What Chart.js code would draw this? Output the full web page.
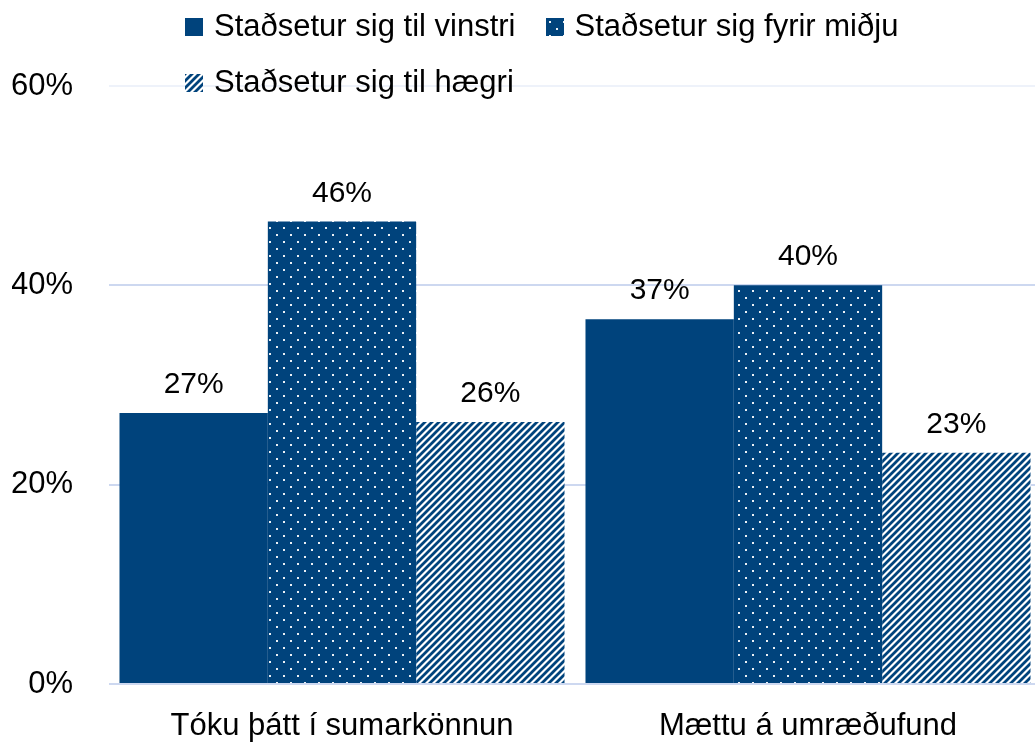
<!DOCTYPE html>
<html>
<head>
<meta charset="utf-8">
<script src="https://cdn.jsdelivr.net/npm/chart.js@4/dist/chart.umd.min.js"></script>
<style>
  html, body { margin: 0; padding: 0; overflow: hidden; background: #ffffff; }
  #wrap { position: relative; width: 1035px; height: 747px; overflow: hidden; }
  #chartBox { position: absolute; left: 0; top: 0; width: 1041px; height: 747px; }
  #legend {
    position: absolute; left: 185px; top: -2px; width: 760px;
    display: flex; flex-wrap: wrap;
    font-family: "Liberation Sans", Arial, sans-serif; font-size: 31px; line-height: 56px; color: #000;
  }
  .item { white-space: nowrap; margin-right: 30px; }
  .item canvas { vertical-align: baseline; margin-right: 11px; }
</style>
</head>
<body>
<div id="wrap">
  <div id="chartBox"><canvas id="c" width="1041" height="747"></canvas></div>
  <div id="legend"></div>
</div>
<script>
const categories = ['Tóku þátt í sumarkönnun', 'Mættu á umræðufund'];
const seriesNames = ['Staðsetur sig til vinstri', 'Staðsetur sig fyrir miðju', 'Staðsetur sig til hægri'];
const vinstri = [27.2, 36.6];
const midju = [46.4, 40.0];
const haegri = [26.3, 23.2];
const yTickValues = [0, 20, 40, 60];

const BLUE = '#00437c';

function makePattern(kind, ctx) {
  const t = document.createElement('canvas');
  if (kind === 'solid') return BLUE;
  if (kind === 'dots') {
    t.width = 14; t.height = 14;
    const g = t.getContext('2d');
    g.fillStyle = BLUE; g.fillRect(0, 0, 14, 14);
    g.fillStyle = 'rgba(255,255,255,0.92)';
    g.fillRect(3, 3, 2, 2);
    g.fillRect(10, 10, 2, 2);
  } else {
    const p = 7;
    t.width = p; t.height = p;
    const g = t.getContext('2d');
    g.fillStyle = '#ffffff'; g.fillRect(0, 0, p, p);
    g.strokeStyle = BLUE; g.lineWidth = 2.8; g.lineCap = 'square';
    g.beginPath();
    g.moveTo(-1, p + 1); g.lineTo(p + 1, -1);
    g.moveTo(-p, p); g.lineTo(p, -p);
    g.moveTo(0, 2 * p); g.lineTo(2 * p, 0);
    g.stroke();
  }
  return ctx.createPattern(t, 'repeat');
}

const kinds = ['solid', 'dots', 'stripes'];
const canvas = document.getElementById('c');
const ctx = canvas.getContext('2d');

const valueLabels = {
  id: 'valueLabels',
  afterDatasetsDraw(chart) {
    const c = chart.ctx;
    c.save();
    c.font = '30px "Liberation Sans", Arial, sans-serif';
    c.fillStyle = '#000';
    c.textAlign = 'center';
    c.textBaseline = 'alphabetic';
    chart.data.datasets.forEach((ds, i) => {
      chart.getDatasetMeta(i).data.forEach((bar, j) => {
        c.fillText(Math.round(ds.data[j]) + '%', bar.x, bar.y - 20);
      });
    });
    c.restore();
  }
};

const chart = new Chart(ctx, {
  type: 'bar',
  data: {
    labels: categories,
    datasets: [
      { label: seriesNames[0], data: vinstri, backgroundColor: makePattern(kinds[0], ctx) },
      { label: seriesNames[1], data: midju, backgroundColor: makePattern(kinds[1], ctx) },
      { label: seriesNames[2], data: haegri, backgroundColor: makePattern(kinds[2], ctx) }
    ]
  },
  options: {
    responsive: false,
    animation: false,
    devicePixelRatio: 1,
    layout: { padding: { top: 86, left: 12, right: 0, bottom: 2 } },
    datasets: { bar: { categoryPercentage: 0.955, barPercentage: 1.0, borderWidth: 0 } },
    plugins: { legend: { display: false }, tooltip: { enabled: false } },
    scales: {
      x: {
        grid: { display: false, drawTicks: false },
        border: { display: false },
        afterFit(axis) { axis.height = 61; },
        ticks: { color: '#000', padding: 24, font: { family: '"Liberation Sans", Arial, sans-serif', size: 31 } }
      },
      y: {
        min: 0, max: 60,
        afterBuildTicks(axis) { axis.ticks = yTickValues.map(v => ({ value: v })); },
        afterFit(axis) { axis.width = 97; },
        grid: {
          drawTicks: false,
          lineWidth: 2,
          color: (c) => (c.tick && c.tick.value === 60) ? '#eef2fa' : '#cdd8f0'
        },
        border: { display: false },
        ticks: {
          color: '#000', padding: 36,
          font: { family: '"Liberation Sans", Arial, sans-serif', size: 31 },
          callback: (v) => v + '%'
        }
      }
    }
  },
  plugins: [valueLabels]
});

// HTML legend built from the chart's datasets
const legend = document.getElementById('legend');
chart.data.datasets.forEach((ds, i) => {
  const item = document.createElement('span');
  item.className = 'item';
  const sw = document.createElement('canvas');
  sw.width = 18; sw.height = 18;
  const sctx = sw.getContext('2d');
  sctx.fillStyle = makePattern(kinds[i], sctx);
  sctx.fillRect(0, 0, 18, 18);
  item.appendChild(sw);
  item.appendChild(document.createTextNode(ds.label));
  legend.appendChild(item);
});
</script>
</body>
</html>
